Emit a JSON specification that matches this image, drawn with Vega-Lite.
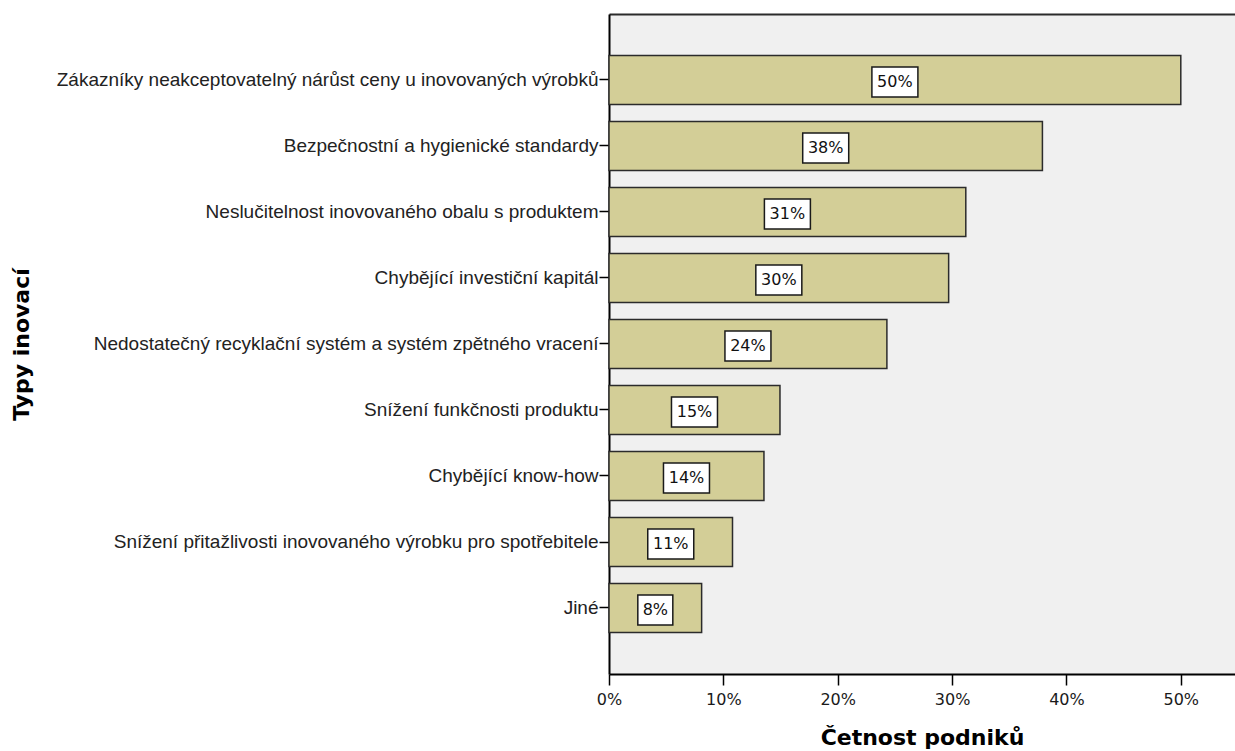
{
  "$schema": "https://vega.github.io/schema/vega-lite/v6.json",
  "autosize": {"type": "none"},
  "padding": {"left": 609, "top": 14, "right": 0, "bottom": 77},
  "width": 626,
  "height": 660,
  "background": "#ffffff",
  "config": {
    "view": {"stroke": null, "fill": "#F0F0F0"},
    "axis": {"grid": false}
  },
  "data": {
    "values": [
      {"typ": "Zákazníky neakceptovatelný nárůst ceny u inovovaných výrobků", "podil": 0.500},
      {"typ": "Bezpečnostní a hygienické standardy", "podil": 0.379},
      {"typ": "Neslučitelnost inovovaného obalu s produktem", "podil": 0.312},
      {"typ": "Chybějící investiční kapitál", "podil": 0.297},
      {"typ": "Nedostatečný recyklační systém a systém zpětného vracení", "podil": 0.243},
      {"typ": "Snížení funkčnosti produktu", "podil": 0.1495},
      {"typ": "Chybějící know-how", "podil": 0.1355},
      {"typ": "Snížení přitažlivosti inovovaného výrobku pro spotřebitele", "podil": 0.108},
      {"typ": "Jiné", "podil": 0.081}
    ]
  },
  "encoding": {
    "y": {
      "field": "typ",
      "type": "nominal",
      "sort": null,
      "scale": {"paddingInner": 0.258, "paddingOuter": 0.629},
      "axis": {
        "title": "Typy inovací",
        "titleFont": "DejaVu Sans",
        "titleFontSize": 22,
        "titleFontWeight": "bold",
        "titleColor": "#000000",
        "titleX": -576,
        "labelFont": "Liberation Sans",
        "labelFontSize": 19,
        "labelColor": "#222222",
        "labelPadding": 1,
        "labelLimit": 600,
        "tickSize": 10,
        "tickColor": "#000000",
        "tickWidth": 1.5,
        "domainColor": "#000000",
        "domainWidth": 2
      }
    }
  },
  "resolve": {"axis": {"x": "independent"}},
  "layer": [
    {
      "mark": {"type": "bar", "fill": "#D3CE97", "stroke": "#2b2b2b", "strokeWidth": 1.5},
      "encoding": {
        "x": {
          "field": "podil",
          "type": "quantitative",
          "scale": {"domain": [0, 0.5474], "nice": false, "zero": true},
          "axis": {
            "orient": "bottom",
            "format": ".0%",
            "values": [0, 0.1, 0.2, 0.3, 0.4, 0.5],
            "title": "Četnost podniků",
            "titleFont": "DejaVu Sans",
            "titleFontSize": 22,
            "titleFontWeight": "bold",
            "titleColor": "#000000",
            "titlePadding": 20,
            "labelFont": "DejaVu Sans",
            "labelFontSize": 16,
            "labelColor": "#1a1a1a",
            "labelPadding": 6,
            "labelFlush": false,
            "tickSize": 11,
            "tickColor": "#000000",
            "tickWidth": 1.5,
            "domainColor": "#000000",
            "domainWidth": 2
          }
        }
      }
    },
    {
      "mark": {"type": "rule", "stroke": "#000000", "strokeWidth": 2, "opacity": 0},
      "encoding": {
        "x": {
          "field": "podil",
          "type": "quantitative",
          "axis": {
            "orient": "top",
            "title": null,
            "labels": false,
            "ticks": false,
            "domainColor": "#2b2b2b",
            "domainWidth": 2
          }
        }
      }
    },
    {
      "transform": [{"calculate": "datum.podil / 2", "as": "stred"}],
      "mark": {"type": "point", "filled": true, "fill": "#ffffff", "stroke": "#1a1a1a", "strokeWidth": 1.5, "opacity": 1, "yOffset": 2},
      "encoding": {
        "x": {"field": "stred", "type": "quantitative", "axis": null},
        "shape": {
          "condition": {"test": "datum.podil < 0.095", "value": "M-1,-0.857L1,-0.857L1,0.857L-1,0.857Z"},
          "value": "M-1,-0.652L1,-0.652L1,0.652L-1,0.652Z"
        },
        "size": {
          "condition": {"test": "datum.podil < 0.095", "value": 1225},
          "value": 2116
        }
      }
    },
    {
      "transform": [{"calculate": "datum.podil / 2", "as": "stred"}],
      "mark": {"type": "text", "font": "DejaVu Sans", "fontSize": 16, "fill": "#111111", "align": "center", "baseline": "middle", "dy": 2},
      "encoding": {
        "x": {"field": "stred", "type": "quantitative", "axis": null},
        "text": {"field": "podil", "type": "quantitative", "format": ".0%"}
      }
    }
  ]
}
